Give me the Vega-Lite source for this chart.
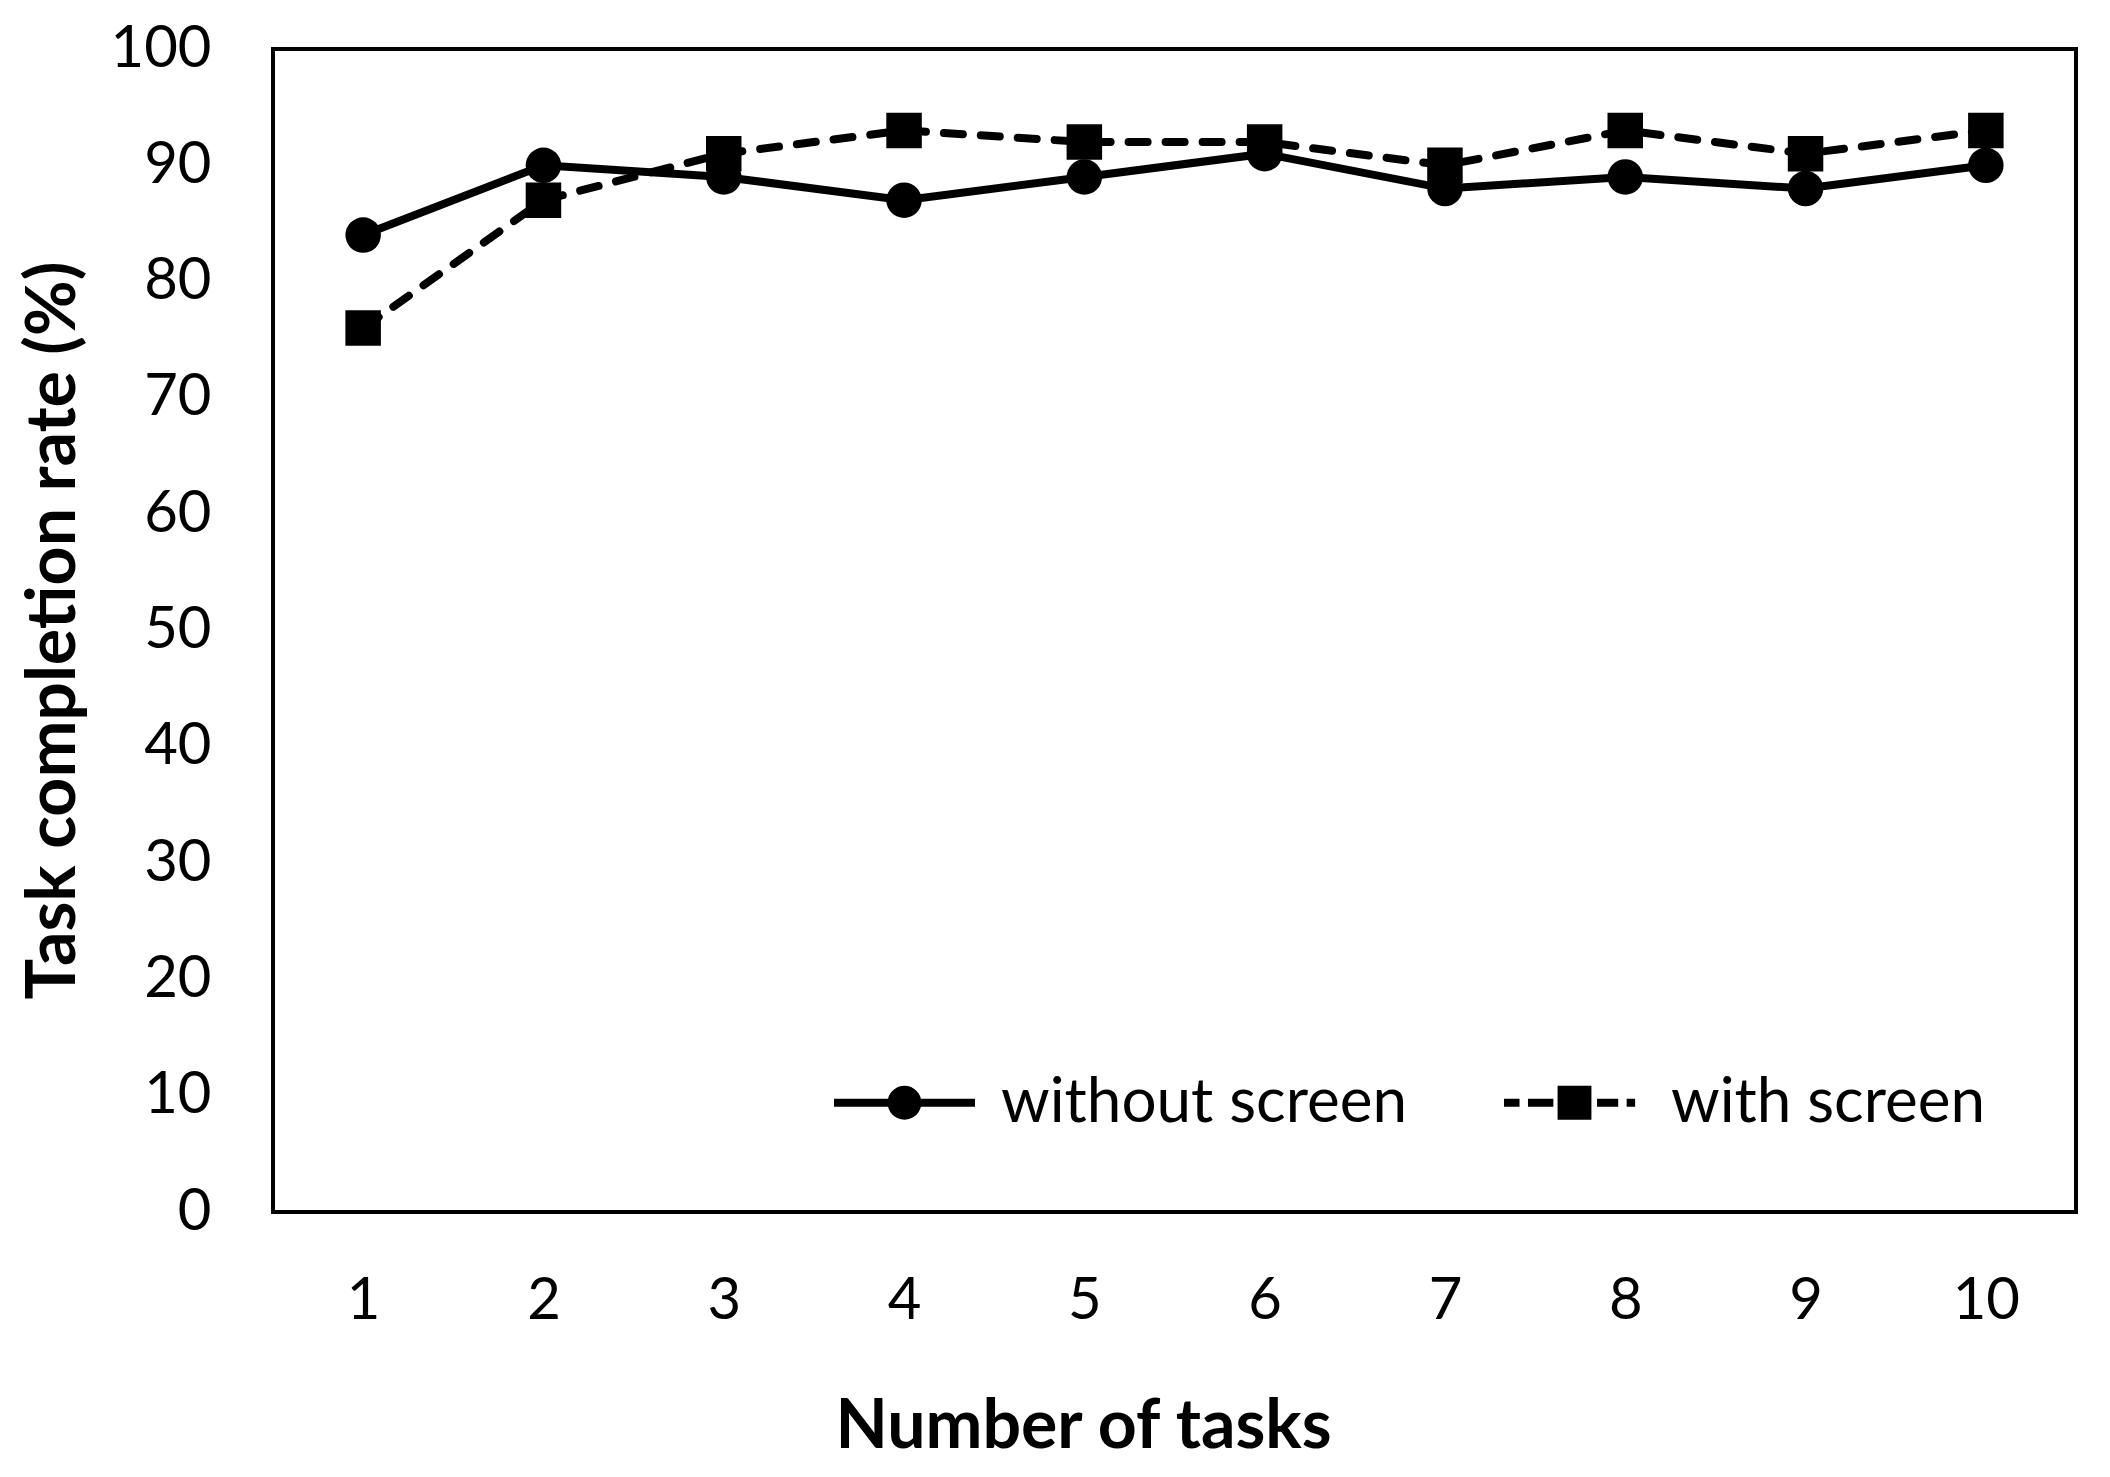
{
  "$schema": "https://vega.github.io/schema/vega-lite/v6.json",
  "autosize": "none",
  "width": 1803,
  "height": 1163,
  "padding": {"left": 273, "top": 49, "right": 34, "bottom": 265},
  "background": "white",
  "config": {
    "view": {"stroke": "black", "strokeWidth": 4},
    "font": "Lato",
    "axis": {
      "domain": false,
      "ticks": false,
      "grid": false,
      "labelFont": "Lato",
      "labelFontSize": 58,
      "labelColor": "black",
      "titleFont": "Lato",
      "titleFontSize": 68,
      "titleFontWeight": "bold",
      "titleColor": "black"
    }
  },
  "data": {
    "values": [
      {"task": 1, "series": "without screen", "rate": 84},
      {"task": 2, "series": "without screen", "rate": 90},
      {"task": 3, "series": "without screen", "rate": 89},
      {"task": 4, "series": "without screen", "rate": 87},
      {"task": 5, "series": "without screen", "rate": 89},
      {"task": 6, "series": "without screen", "rate": 91},
      {"task": 7, "series": "without screen", "rate": 88},
      {"task": 8, "series": "without screen", "rate": 89},
      {"task": 9, "series": "without screen", "rate": 88},
      {"task": 10, "series": "without screen", "rate": 90},
      {"task": 1, "series": "with screen", "rate": 76},
      {"task": 2, "series": "with screen", "rate": 87},
      {"task": 3, "series": "with screen", "rate": 91},
      {"task": 4, "series": "with screen", "rate": 93},
      {"task": 5, "series": "with screen", "rate": 92},
      {"task": 6, "series": "with screen", "rate": 92},
      {"task": 7, "series": "with screen", "rate": 90},
      {"task": 8, "series": "with screen", "rate": 93},
      {"task": 9, "series": "with screen", "rate": 91},
      {"task": 10, "series": "with screen", "rate": 93}
    ]
  },
  "encoding": {
    "x": {
      "field": "task",
      "type": "ordinal",
      "scale": {"type": "point", "padding": 0.5},
      "axis": {
        "title": "Number of tasks",
        "labelAngle": 0,
        "labelBaseline": "alphabetic",
        "labelPadding": 106,
        "titleX": 810,
        "titleY": 235,
        "titleAlign": "center",
        "titleAnchor": null,
        "titleBaseline": "alphabetic"
      }
    },
    "y": {
      "field": "rate",
      "type": "quantitative",
      "scale": {"domain": [0, 100], "nice": false, "zero": true},
      "axis": {
        "title": "Task completion rate (%)",
        "values": [0, 10, 20, 30, 40, 50, 60, 70, 80, 90, 100],
        "labelPadding": 62,
        "labelBaseline": "middle",
        "titleX": -219,
        "titleY": 581,
        "titleAngle": 270,
        "titleAlign": "center",
        "titleAnchor": null,
        "titleBaseline": "middle"
      }
    }
  },
  "resolve": {"scale": {"shape": "independent"}},
  "layer": [
    {
      "transform": [{"filter": "datum.series === 'without screen'"}],
      "mark": {"type": "line", "color": "black", "strokeWidth": 8, "strokeCap": "butt"},
      "encoding": {}
    },
    {
      "transform": [{"filter": "datum.series === 'with screen'"}],
      "mark": {"type": "line", "color": "black", "strokeWidth": 8, "strokeCap": "round", "strokeDash": [19, 18]},
      "encoding": {}
    },
    {
      "mark": {"type": "point", "filled": true, "color": "black", "opacity": 1, "size": 1260},
      "encoding": {
        "shape": {
          "field": "series",
          "type": "nominal",
          "scale": {"domain": ["without screen", "with screen"], "range": ["circle", "square"]},
          "legend": null
        }
      }
    },
    {
      "transform": [{"filter": "false"}],
      "mark": {"type": "point", "filled": true, "color": "black", "opacity": 1, "size": 19881},
      "encoding": {
        "shape": {
          "field": "series",
          "type": "nominal",
          "scale": {
            "domain": ["without screen", "with screen"],
            "range": [
              "M-1,-0.055H-0.2V0.055H-1Z M0.2,-0.055H1V0.055H0.2Z M-0.24,0 A0.24,0.24 0 1,1 0.24,0 A0.24,0.24 0 1,1 -0.24,0 Z",
              "M-1,-0.055H-0.78V0.055H-1Z M-0.66,-0.055H-0.3V0.055H-0.66Z M-0.24,-0.24H0.24V0.24H-0.24Z M0.32,-0.055H0.62V0.055H0.32Z M0.74,-0.055H0.86V0.055H0.74Z"
            ]
          },
          "legend": {
            "title": null,
            "orient": "none",
            "direction": "horizontal",
            "legendX": 561,
            "legendY": 983,
            "padding": 0,
            "symbolSize": 19881,
            "symbolStrokeWidth": 0,
            "symbolFillColor": "black",
            "symbolOpacity": 1,
            "labelFont": "Lato",
            "labelFontSize": 62,
            "labelColor": "black",
            "labelOffset": 26,
            "labelLimit": 600,
            "columnPadding": 96
          }
        }
      }
    }
  ]
}
